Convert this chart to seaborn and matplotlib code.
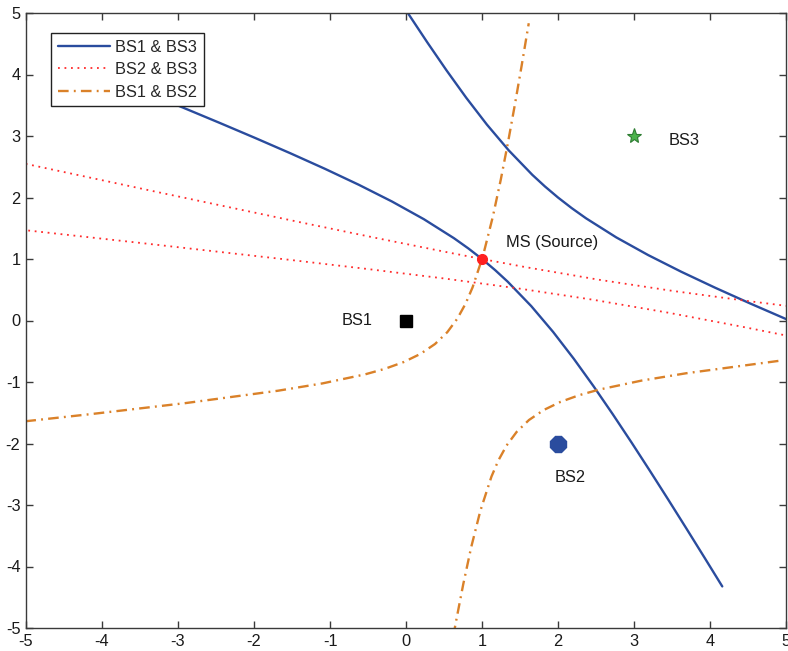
import matplotlib
matplotlib.use("Agg")
import matplotlib.pyplot as plt
import seaborn as sns

# Station and source positions
bs1 = (0.0, 0.0)
bs2 = (2.0, -2.0)
bs3 = (3.0, 3.0)
ms = (1.0, 1.0)

# TDOA hyperbola BS1 & BS3 (two branches)
b13_a_x = [-4.3238, -3.8522, -3.3818, -2.9131, -2.4465, -1.9827, -1.5227, -1.0682, -0.6213,
           -0.1857, 0.2339, 0.6311, 0.8193, 1.0, 1.1729, 1.3382, 1.6481, 1.9357, 2.2071,
           2.4674, 2.7199, 2.9671, 3.2104, 3.4509, 3.6892, 3.9260, 4.1615]
b13_a_y = [4.1615, 3.9260, 3.6892, 3.4509, 3.2104, 2.9671, 2.7199, 2.4674, 2.2071,
           1.9357, 1.6481, 1.3382, 1.1729, 1.0, 0.8193, 0.6311, 0.2339, -0.1857, -0.6213,
           -1.0682, -1.5227, -1.9827, -2.4465, -2.9131, -3.3818, -3.8522, -4.3238]
b13_b_x = [5.0155, 4.5227, 4.0682, 3.6213, 3.1857, 2.7661, 2.3689, 2.1807, 2.0, 1.8271,
           1.6618, 1.3519, 1.0643, 0.7929, 0.5326, 0.2801, 0.0155]
b13_b_y = [0.0155, 0.2801, 0.5326, 0.7929, 1.0643, 1.3519, 1.6618, 1.8271, 2.0, 2.1807,
           2.3689, 2.7661, 3.1857, 3.6213, 4.0682, 4.5227, 5.0155]

# TDOA hyperbola BS2 & BS3 (two branches)
b23_a_x = [-5.0042, -3.2996, -1.3613, -0.3911, 0.5805, 1.0, 1.5546, 2.5327, 3.5158, 4.5028, 5.0963]
b23_a_y = [2.5473, 2.0960, 1.5895, 1.3414, 1.1005, 1.0, 0.8720, 0.6637, 0.4798, 0.3160, 0.2241]
b23_b_x = [-5.0555, -3.4673, -1.4833, -0.4924, 0.4972, 1.4842, 2.4673, 3.4454, 4.4195, 5.0027]
b23_b_y = [1.4749, 1.2574, 0.9795, 0.8353, 0.6840, 0.5202, 0.3363, 0.1280, -0.1005, -0.2440]

# TDOA hyperbola BS1 & BS2 (two branches)
b12_a_x = [-5.0082, -4.1363, -2.8999, -1.6863, -1.0986, -0.5384, -0.2759, -0.0312, 0.1898,
           0.3820, 0.5433, 0.6759, 0.7848, 0.8758, 1.0, 1.0227, 1.1422, 1.2468, 1.3428,
           1.4334, 1.5206, 1.6153]
b12_a_y = [-1.6386, -1.5206, -1.3428, -1.1422, -1.0227, -0.8758, -0.7848, -0.6759, -0.5433,
           -0.3820, -0.1898, 0.0312, 0.2759, 0.5384, 1.0, 1.0986, 1.6863, 2.2887, 2.8999,
           3.5163, 4.1363, 4.8336]
b12_b_x = [4.8999, 3.6863, 3.0986, 2.5384, 2.2759, 2.0312, 1.8102, 1.6180, 1.4567, 1.3241,
           1.2152, 1.1242, 0.9773, 0.8578, 0.7532, 0.6572, 0.6387]
b12_b_y = [-0.6572, -0.8578, -0.9773, -1.1242, -1.2152, -1.3241, -1.4567, -1.6180, -1.8102,
           -2.0312, -2.2759, -2.5384, -3.0986, -3.6863, -4.2887, -4.8999, -5.0228]

ticks = [-5, -4, -3, -2, -1, 0, 1, 2, 3, 4, 5]

sns.set_style("ticks")
plt.rcParams["font.family"] = ["Liberation Sans", "DejaVu Sans"]
FS = 11.8
plt.rcParams["font.size"] = FS

BLUE = "#2a4c9e"
RED = "#ff2b2b"
ORANGE = "#da8129"
AXC = "#3a3a3a"
TXT = "#1a1a1a"

fig = plt.figure(figsize=(7.88, 6.51), dpi=100)
ax = fig.add_axes([26 / 788, 23 / 651, 760 / 788, 615 / 651])

line_kw = dict(sort=False, estimator=None, ax=ax)
sns.lineplot(x=b13_a_x, y=b13_a_y, color=BLUE, linewidth=1.7, label="BS1 & BS3", **line_kw)
sns.lineplot(x=b13_b_x, y=b13_b_y, color=BLUE, linewidth=1.7, **line_kw)

dot = (0, (1.0, 2.6))
sns.lineplot(x=b23_a_x, y=b23_a_y, color=RED, linewidth=1.3, linestyle=dot, label="BS2 & BS3", **line_kw)
sns.lineplot(x=b23_b_x, y=b23_b_y, color=RED, linewidth=1.3, linestyle=dot, **line_kw)

dashdot = (0, (4.5, 2.2, 0.8, 2.2))
sns.lineplot(x=b12_a_x, y=b12_a_y, color=ORANGE, linewidth=1.7, linestyle=dashdot, label="BS1 & BS2", **line_kw)
sns.lineplot(x=b12_b_x, y=b12_b_y, color=ORANGE, linewidth=1.7, linestyle=dashdot, **line_kw)

# Base stations and mobile source
ax.plot(*bs1, marker="s", markersize=9, color="black", linestyle="none", zorder=5)
ax.plot(*bs2, marker="8", markersize=12, color=BLUE, linestyle="none", zorder=5)
ax.plot(*bs3, marker="*", markersize=11, markerfacecolor="#4cb34c", markeredgecolor="#2e7d32",
        markeredgewidth=0.8, linestyle="none", zorder=5)
ax.plot(*ms, marker="o", markersize=7, color="#ff2020", linestyle="none", zorder=6)

ax.text(-0.85, 0.0, "BS1", ha="left", va="center", fontsize=FS, color=TXT)
ax.text(1.95, -2.56, "BS2", ha="left", va="center", fontsize=FS, color=TXT)
ax.text(3.45, 2.92, "BS3", ha="left", va="center", fontsize=FS, color=TXT)
ax.text(1.31, 1.27, "MS (Source)", ha="left", va="center", fontsize=FS, color=TXT)

ax.set_xlim(-5, 5)
ax.set_ylim(-5, 5)
ax.set_xticks(ticks)
ax.set_yticks(ticks)
ax.set_xticklabels([str(t) for t in ticks])
ax.set_yticklabels([str(t) for t in ticks])
ax.tick_params(direction="in", length=5, width=1, color=AXC, labelsize=FS,
               labelcolor=TXT, top=True, right=True, pad=4)
for s in ax.spines.values():
    s.set_color(AXC)
    s.set_linewidth(1.0)
    s.set_visible(True)

leg = ax.legend(loc="upper left", bbox_to_anchor=(0.033, 0.967), borderaxespad=0,
                fontsize=FS, frameon=True, fancybox=False, framealpha=1,
                handlelength=3.2, handletextpad=0.3, labelspacing=0.45,
                borderpad=0.4)
leg.get_frame().set_edgecolor("#222222")
leg.get_frame().set_linewidth(1.0)

fig.savefig("out.png", dpi=100)
